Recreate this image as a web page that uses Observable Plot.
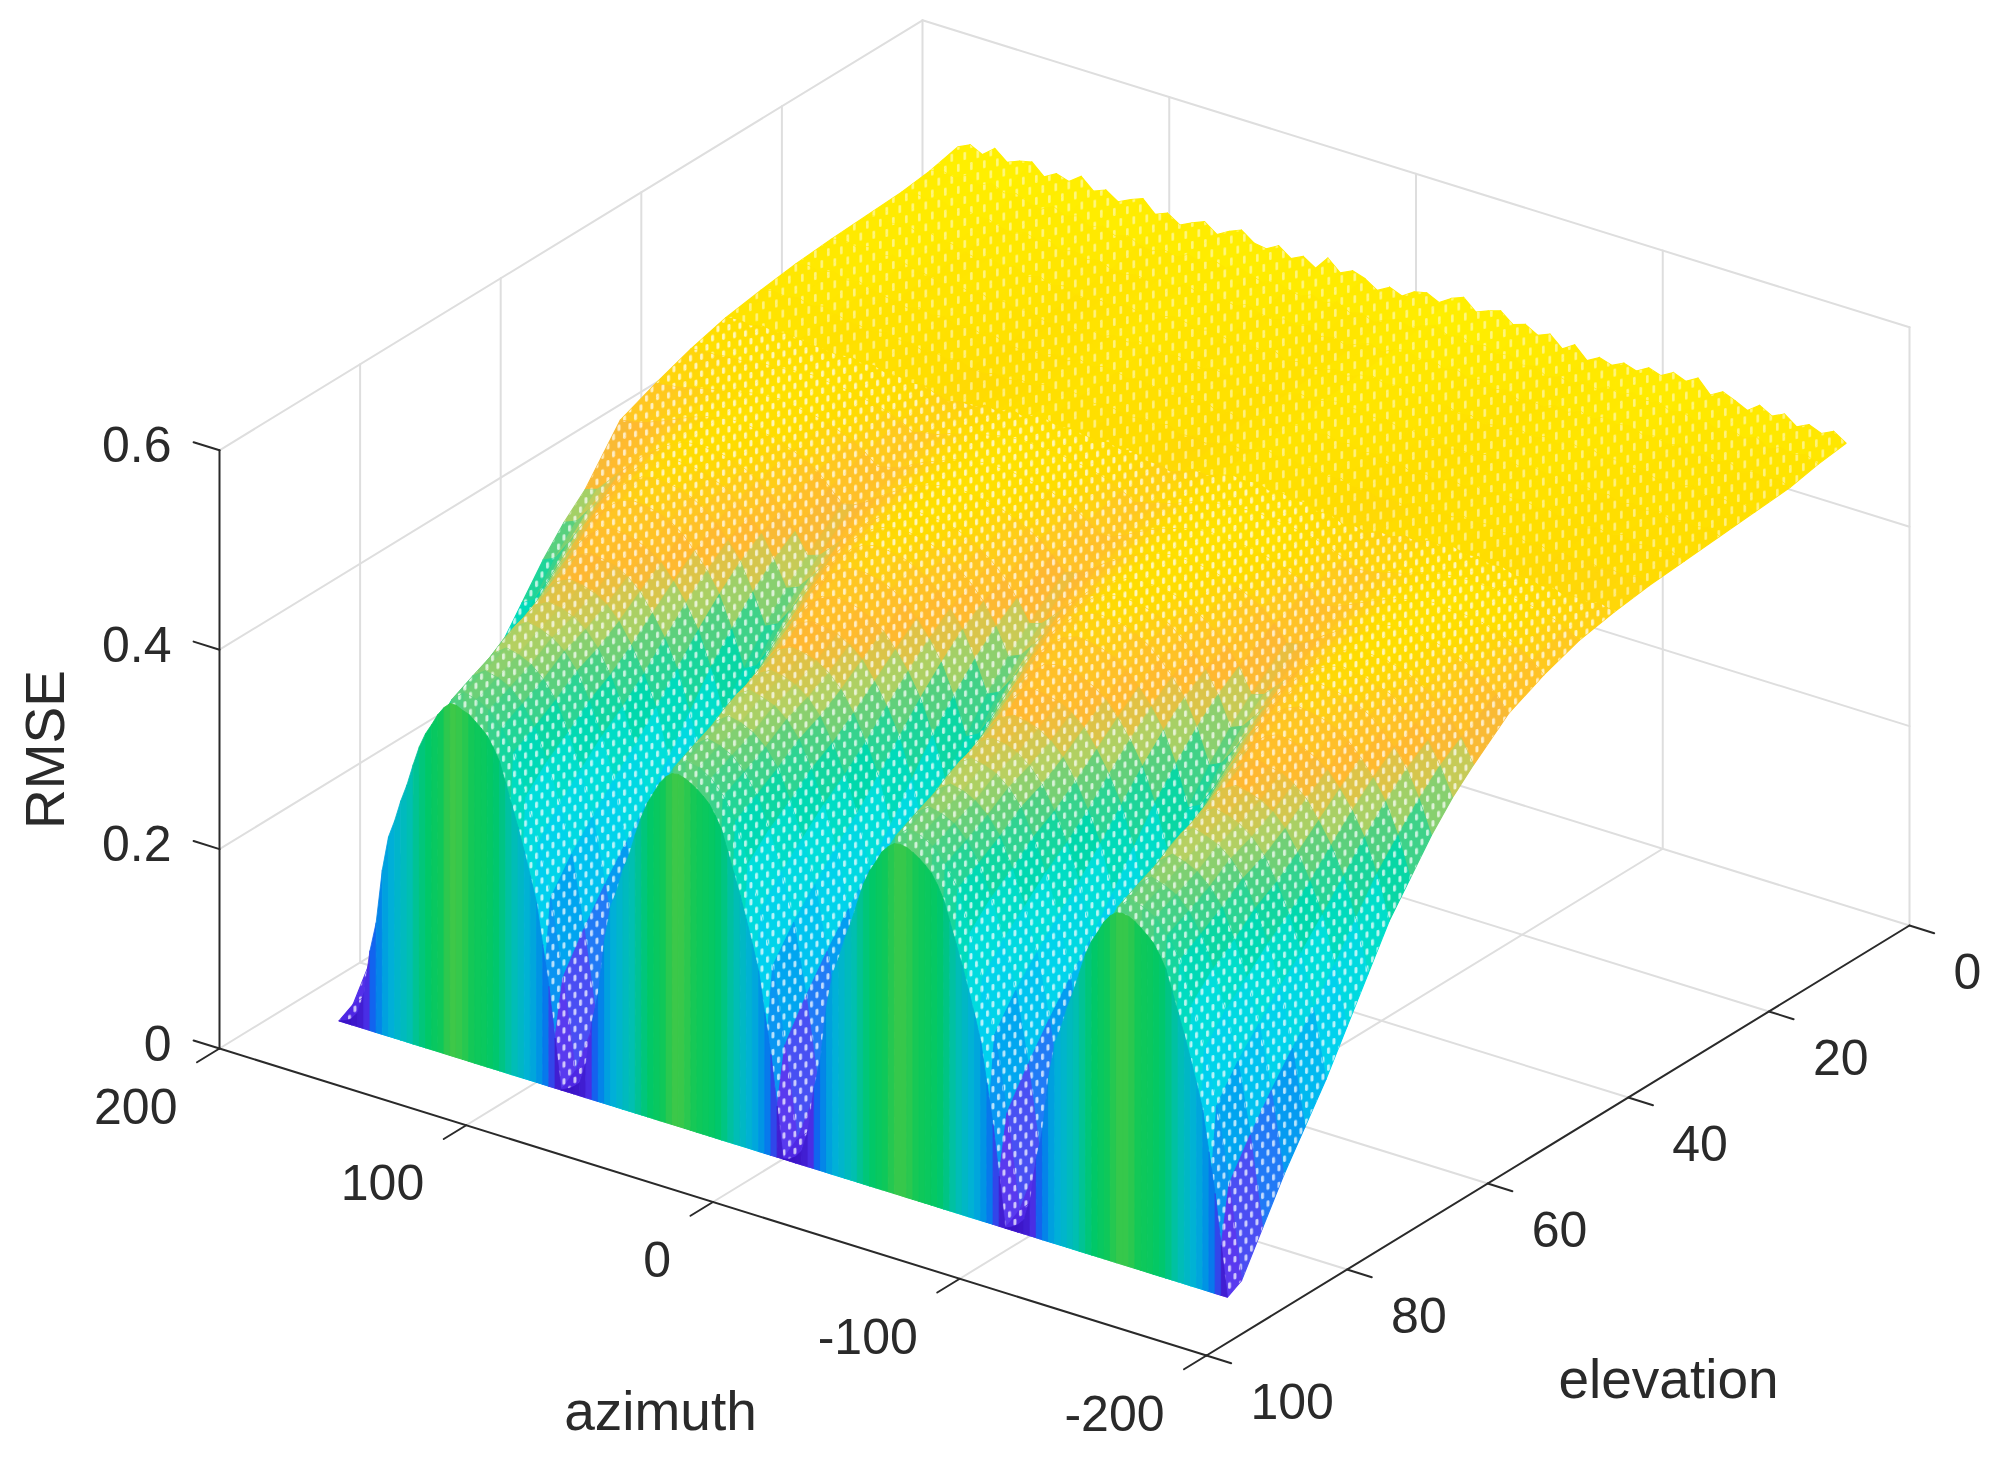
<!DOCTYPE html>
<html><head><meta charset="utf-8">
<script src="https://cdn.jsdelivr.net/npm/d3@7"></script>
<script src="https://cdn.jsdelivr.net/npm/@observablehq/plot@0.6"></script>
<style>html,body{margin:0;padding:0;background:#fff;overflow:hidden}svg{display:block;filter:blur(.6px)}</style>
</head><body><div id="chart"></div>
<script>
// RMSE, in thousandths; one list per elevation, azimuth 180 down to -180 by 5
const rmseEl2=[497,503,497,507,497,502,505,494,501,497,506,495,500,492,498,503,491,496,488,494,499,490,497,502,493,491,498,489,495,487,501,490,496,492,484,491,486,494,497,491,499,504,493,498,502,492,496,489,494,483,491,479,486,482,488,484,491,487,494,489,496,483,490,485,479,488,481,487,478,484,479,485,477];
const rmseEl6=[490,494,491,497,491,497,491,494,489,486,493,487,491,484,489,483,487,481,479,484,481,487,483,489,485,490,486,482,488,483,480,485,481,486,479,482,477,483,487,483,489,493,486,490,485,488,483,486,480,483,476,480,477,483,479,485,481,487,483,486,480,483,478,481,475,480,476,481,473,478,475,479,473];
const rmseEl10=[486,489,487,491,486,490,485,486,482,479,484,480,483,477,481,476,479,474,473,476,474,480,476,482,478,483,479,476,481,476,474,478,475,479,472,475,471,476,480,476,482,485,480,483,478,481,476,479,473,476,470,473,471,476,473,478,474,480,476,479,474,476,472,475,469,473,470,474,467,471,469,472,467];
const rmseEl15=[484,487,484,488,484,487,483,482,478,475,480,476,479,473,477,472,475,470,469,472,470,476,472,478,475,479,476,473,477,473,471,474,472,476,469,472,468,472,476,473,478,481,477,479,475,477,473,475,470,472,467,470,468,473,470,474,471,476,473,475,471,473,469,471,466,470,467,471,465,468,466,469,464];
const rmseEl20=[482,485,482,486,481,485,480,478,475,472,476,473,475,470,473,469,472,467,466,469,467,472,469,474,471,475,473,470,473,470,468,471,469,472,466,468,465,469,473,470,474,477,474,476,472,474,470,472,467,469,464,467,465,470,467,471,468,472,470,472,468,470,466,468,463,467,464,468,462,465,463,466,461];
const rmseEl25=[479,481,478,483,478,481,477,474,472,469,473,470,472,467,470,466,469,464,463,466,464,469,466,471,468,472,470,467,470,467,465,468,466,469,463,465,462,466,470,467,471,474,471,473,469,471,467,469,464,466,461,464,462,467,464,468,465,469,467,469,465,467,463,465,460,464,461,465,459,462,460,463,458];
const rmseEl30=[474,477,475,478,474,477,473,470,469,467,470,467,468,464,466,463,466,461,460,463,461,465,463,468,465,469,468,464,467,464,462,465,463,466,460,462,459,463,466,464,468,471,468,470,466,468,464,466,461,463,458,461,459,464,461,465,462,466,464,466,462,464,460,462,457,461,458,461,456,459,457,460,455];
const rmseEl35=[468,470,468,471,469,471,469,467,467,465,468,465,466,462,463,460,462,457,453,457,456,461,459,465,462,467,466,462,465,462,460,462,459,461,455,456,452,456,461,460,464,468,466,468,464,466,462,463,458,459,453,455,452,457,456,461,459,464,462,465,461,463,459,460,455,457,453,455,451,453,452,454,450];
const rmseEl40=[458,460,460,462,462,465,466,466,468,469,470,468,467,465,462,460,456,451,444,447,449,454,457,462,464,467,469,470,469,468,467,465,463,460,456,450,443,446,450,453,458,463,465,468,469,470,471,468,468,466,464,461,457,451,445,447,449,453,456,461,464,467,468,469,468,469,466,465,463,460,456,451,443];
const rmseEl45=[445,447,449,452,455,458,461,463,466,467,468,466,464,462,459,454,449,441,431,434,438,445,451,456,461,464,467,468,468,467,465,463,460,455,450,442,432,434,439,446,452,457,461,465,467,469,468,467,466,464,460,456,451,443,431,433,438,444,450,455,460,463,466,468,467,466,465,463,459,454,449,441,430];
const rmseEl50=[430,432,435,440,445,451,456,460,463,465,465,463,461,458,453,447,440,427,415,418,425,434,442,450,456,461,464,466,466,464,462,459,454,448,441,429,416,419,426,435,443,451,457,462,465,467,466,465,463,460,455,449,442,430,414,417,424,433,441,449,455,460,463,465,465,464,461,458,453,447,440,428,413];
const rmseEl55=[382,386,399,412,425,437,446,454,460,462,461,460,457,452,444,435,423,405,385,389,401,414,426,438,447,455,461,463,462,461,458,453,445,436,424,407,386,390,402,415,427,439,448,456,462,464,463,462,459,454,446,437,425,408,384,388,400,413,425,437,446,454,460,463,461,460,457,452,444,435,423,406,383];
const rmseEl58=[362,367,382,398,414,429,440,450,456,459,458,456,452,447,437,426,412,390,365,370,384,400,415,430,441,451,457,460,459,457,453,448,438,427,413,392,366,371,385,401,416,431,442,452,458,461,460,458,454,449,439,428,414,393,364,369,383,399,414,429,440,450,456,460,458,456,452,447,437,426,412,391,363];
const rmseEl61=[337,343,361,381,400,417,431,443,451,454,453,451,446,439,428,414,397,370,340,346,363,383,401,418,432,444,452,455,454,452,447,440,429,415,398,372,341,347,364,384,402,419,433,445,453,456,455,453,448,441,430,416,399,373,339,345,362,382,400,417,431,443,451,455,453,451,446,439,428,414,397,371,338];
const rmseEl64=[307,314,335,358,381,401,417,431,440,444,443,440,435,426,413,397,377,346,310,317,337,360,382,402,418,432,441,445,444,441,436,427,414,398,378,348,311,318,338,361,383,403,419,433,442,446,445,442,437,428,415,399,379,349,309,316,336,359,381,401,417,431,440,445,443,440,435,426,413,397,377,347,308];
const rmseEl67=[277,285,308,334,359,381,399,414,425,429,428,425,419,410,395,377,354,320,280,288,310,336,360,382,400,415,426,430,429,426,420,411,396,378,355,322,281,289,311,337,361,383,401,416,427,431,430,427,421,412,397,379,356,323,279,287,309,335,359,381,399,414,425,430,428,425,419,410,395,377,354,321,278];
const rmseEl70=[237,246,274,304,333,360,381,399,412,417,415,412,405,394,376,355,328,288,240,249,276,306,334,361,382,400,413,418,416,413,406,395,377,356,329,290,241,250,277,307,335,362,383,401,414,419,417,414,407,396,378,357,330,291,239,248,275,305,333,360,381,399,412,418,415,412,405,394,376,355,328,289,238];
const rmseEl73=[197,207,239,274,308,338,363,384,398,404,402,398,390,377,357,332,302,255,200,210,241,276,309,339,364,385,399,405,403,399,391,378,358,333,303,257,201,211,242,277,310,340,365,386,400,406,404,400,392,379,359,334,304,258,199,209,240,275,308,338,363,384,398,405,402,398,390,377,357,332,302,256,198];
const rmseEl76=[158,170,205,245,284,319,347,371,387,394,392,387,378,363,340,312,277,224,160,172,207,247,285,320,348,372,388,395,393,388,379,364,341,313,278,226,161,173,208,248,286,321,349,373,389,396,394,389,380,365,342,314,279,227,159,171,206,246,284,319,347,371,387,395,392,387,378,363,340,312,277,225,158];
const rmseEl79=[123,136,176,220,263,303,334,361,379,387,384,379,369,353,327,295,256,197,125,138,178,222,264,304,335,362,380,388,385,380,370,354,328,296,257,199,126,139,179,223,265,305,336,363,381,389,386,381,371,355,329,297,258,200,124,137,177,221,263,303,334,361,379,388,384,379,369,353,327,295,256,198,123];
const rmseEl82=[88,102,145,193,240,283,317,346,365,374,371,365,354,337,308,274,232,168,90,104,147,195,241,284,318,347,366,375,372,366,355,338,309,275,233,170,91,105,148,196,242,285,319,348,367,376,373,367,356,339,310,276,234,171,89,103,146,194,240,283,317,346,365,375,371,365,354,337,308,274,232,169,88];
const rmseEl85=[48,64,111,165,216,263,301,333,355,364,361,355,342,323,292,254,207,136,50,66,113,167,217,264,302,334,356,365,362,356,343,324,293,255,208,138,51,67,114,168,218,265,303,335,357,366,363,357,344,325,294,256,209,139,49,65,112,166,216,263,301,333,355,365,361,355,342,323,292,254,207,137,48];
const rmseEl88=[8,20,60,120,180,240,284,320,344,355,352,345,331,310,270,228,176,100,10,22,62,122,181,241,285,321,345,356,353,346,332,311,271,229,177,102,11,23,63,123,182,242,286,322,346,357,354,347,333,312,272,230,178,103,9,21,61,121,180,240,284,320,344,356,352,345,331,310,270,228,176,101,8];
const rmseEl90=[0,0,0,0,0,0,0,0,0,0,0,0,0,0,0,0,0,0,0,0,0,0,0,0,0,0,0,0,0,0,0,0,0,0,0,0,0,0,0,0,0,0,0,0,0,0,0,0,0,0,0,0,0,0,0,0,0,0,0,0,0,0,0,0,0,0,0,0,0,0,0,0,0,0,0];
// Height of the dense front wall, azimuth 180 down to -180 by 2.5
const frontWall=[0,2,6,14,35,80,110,165,200,218,240,258,280,300,315,326,338,347,353,353,350,348,343,338,332,322,310,290,270,250,228,205,180,140,100,50,
0,3,7,13,34,78,108,163,199,217,240,257,279,299,315,327,339,347,352,353,351,348,344,339,333,323,311,291,271,251,229,206,181,141,101,51,
0,2,6,14,36,81,111,166,201,219,241,259,280,301,316,327,339,346,351,352,351,348,344,339,333,323,310,290,270,250,228,205,180,140,100,50,
0,3,7,14,35,79,109,164,200,218,240,258,279,300,315,326,338,346,351,352,351,348,343,338,332,322,310,290,270,250,228,205,180,140,100,50,0];
const elevations=[2,6,10,15,20,25,30,35,40,45,50,55,58,61,64,67,70,73,76,79,82,85,88,90];
const rmseRows=[rmseEl2,rmseEl6,rmseEl10,rmseEl15,rmseEl20,rmseEl25,rmseEl30,rmseEl35,rmseEl40,rmseEl45,rmseEl50,rmseEl55,rmseEl58,rmseEl61,rmseEl64,rmseEl67,rmseEl70,rmseEl73,rmseEl76,rmseEl79,rmseEl82,rmseEl85,rmseEl88,rmseEl90];
const azimuths=d3.range(180,-181,-5);
const wallAzimuths=d3.range(180,-181,-2.5);
const azTicks=[200,100,0,-100,-200];
const elTicks=[0,20,40,60,80,100];
const zTicks=[0,0.2,0.4,0.6];
// Two ramps on one colour scale: open mesh at 0-0.5, solid front wall at 1-1.5
const wallShift=1;
const colorStops=[0,0.06,0.1,0.15,0.2,0.27,0.31,0.35,0.38,0.41,0.44,0.46,0.48,0.5, 1,1.06,1.1,1.16,1.21,1.27,1.32,1.345,1.355];
const colorRange=["#4a20e0","#5a3cf0","#2a70f8","#00a0f0","#00d0f0","#00e0d8","#00d8a8","#50d080","#b8d060","#ffb830","#ffc820","#ffdc00","#ffe800","#fff000",
"#3a12c4","#4a2fe6","#0a6cf0","#0094e4","#00b0d8","#00bfb0","#00c868","#10c858","#4ac844"];

// Fixed 3D view of the axes box
const px=(az,el)=>219+2.4675*(200-az)+7.03*(100-el);
const py=(az,el,z)=>1048+0.7675*(200-az)-4.3*(100-el)-997*z;
const P=(az,el,z)=>({x:px(az,el),y:py(az,el,z)});

// Grid and axes
const seg=(a,b,id)=>[{...a,id},{...b,id}];
let gridPts=[],id=0;
for(const t of [100,0,-100]) gridPts.push(...seg(P(t,100,0),P(t,0,0),id++));
for(const t of [80,60,40,20]) gridPts.push(...seg(P(200,t,0),P(-200,t,0),id++));
for(const t of [200,100,0,-100,-200]) gridPts.push(...seg(P(t,0,0),P(t,0,0.6),id++));
for(const t of [80,60,40,20]) gridPts.push(...seg(P(200,t,0),P(200,t,0.6),id++));
for(const t of [0.2,0.4,0.6]){gridPts.push(...seg(P(200,100,t),P(200,0,t),id++));gridPts.push(...seg(P(200,0,t),P(-200,0,t),id++));}
gridPts.push(...seg(P(200,0,0),P(200,100,0),id++),...seg(P(200,0,0),P(-200,0,0),id++));
let axisPts=[];
axisPts.push(...seg(P(200,100,0),P(-200,100,0),id++),...seg(P(-200,100,0),P(-200,0,0),id++),...seg(P(200,100,0),P(200,100,0.6),id++));
for(const t of azTicks) axisPts.push(...seg(P(t,100,0),P(t,103.2,0),id++));
for(const t of elTicks) axisPts.push(...seg(P(-200,t,0),P(-210,t,0),id++));
for(const t of zTicks) axisPts.push(...seg(P(200,100,t),P(210.5,100,t),id++));

// Surface cells, back to front
const bandMarks=[];
for(let i=0;i<elevations.length-1;i++){
  const pts=[],r0=rmseRows[i],r1=rmseRows[i+1],e0=elevations[i],e1=elevations[i+1];
  const lastBand=i===elevations.length-2;
  for(let j=0;j<azimuths.length-1;j++){
    const a0=azimuths[j],a1=azimuths[j+1];
    const v=lastBand?(r0[j]+r0[j+1])/2000:(r0[j]+r0[j+1]+r1[j]+r1[j+1])/4000;
    const c=`${i}-${j}`;
    for(const [a,e,z] of [[a0,e0,r0[j]],[a1,e0,r0[j+1]],[a1,e1,r1[j+1]],[a0,e1,r1[j]],[a0,e0,r0[j]]])
      pts.push({...P(a,e,z/1000),c,v});
  }
  bandMarks.push(Plot.line(pts,{x:"x",y:"y",z:"c",fill:"v",stroke:"v",strokeWidth:1.2}));
  bandMarks.push(Plot.line(pts,{x:"x",y:"y",z:"c",fill:e0<35?"url(#flecksBack)":"url(#flecksFront)",stroke:"none"}));
}
// Front wall, one solid strip per azimuth step
const wallPts=[];
for(let j=0;j<wallAzimuths.length-1;j++){
  const a0=wallAzimuths[j],a1=wallAzimuths[j+1],z0=frontWall[j]/1000,z1=frontWall[j+1]/1000;
  const v=wallShift+(z0+z1)/2,c=j;
  for(const [a,z] of [[a0,0],[a1,0],[a1,z1],[a0,z0],[a0,0]]) wallPts.push({...P(a,90,z),c,v});
}

const zLabels=zTicks.map(t=>({...P(200,100,t),t:String(t)}));
const azLabels=azTicks.map(t=>({...P(t,100,0),t:String(t)}));
const elLabels=elTicks.map(t=>({...P(-200,t,0),t:String(t)}));
const font="Liberation Sans";
const ink="#2a2a2a";
const chart=Plot.plot({
  width:1991,height:1457,margin:0,
  style:{background:"#fff"},
  x:{domain:[0,1991],range:[0,1991],axis:null},
  y:{domain:[0,1457],range:[0,1457],axis:null},
  color:{type:"linear",domain:colorStops,range:colorRange,interpolate:"rgb",clamp:true},
  marks:[
    Plot.line(gridPts,{x:"x",y:"y",z:"id",stroke:"#dedede",strokeWidth:2}),
    Plot.line(axisPts,{x:"x",y:"y",z:"id",stroke:ink,strokeWidth:2}),
    ...bandMarks,
    Plot.line(wallPts,{x:"x",y:"y",z:"c",fill:"v",stroke:"v",strokeWidth:0.8}),
    Plot.text(zLabels,{x:"x",y:"y",text:"t",dx:-48,dy:-4,textAnchor:"end",fontSize:50,fontFamily:font,fill:ink}),
    Plot.text(azLabels,{x:"x",y:"y",text:"t",dx:-42,dy:59,textAnchor:"end",fontSize:50,fontFamily:font,fill:ink}),
    Plot.text(elLabels,{x:"x",y:"y",text:"t",dx:44,dy:47,textAnchor:"start",fontSize:50,fontFamily:font,fill:ink}),
    Plot.text(["azimuth"],{x:()=>660,y:()=>1412,text:d=>d,fontSize:55,fontFamily:font,fill:ink}),
    Plot.text(["elevation"],{x:()=>1668,y:()=>1380,text:d=>d,fontSize:55,fontFamily:font,fill:ink}),
    Plot.text(["RMSE"],{x:()=>46,y:()=>749,text:d=>d,rotate:-90,fontSize:55,fontFamily:font,fill:ink})
  ]
});
chart.insertAdjacentHTML("afterbegin",`<defs>
<pattern id="flecksFront" width="11" height="17" patternUnits="userSpaceOnUse" patternTransform="skewY(-8)">
<rect x="1" y="1" width="3" height="6.5" rx="1.4" fill="#fff" fill-opacity=".72"/><rect x="6.5" y="9.5" width="3" height="6.5" rx="1.4" fill="#fff" fill-opacity=".72"/></pattern>
<pattern id="flecksBack" width="13" height="22" patternUnits="userSpaceOnUse" patternTransform="skewY(-8)">
<rect x="1" y="1" width="2.6" height="8" rx="1.2" fill="#fff" fill-opacity=".5"/><rect x="7.5" y="12" width="2.6" height="8" rx="1.2" fill="#fff" fill-opacity=".5"/></pattern>
</defs>`);
document.getElementById("chart").append(chart);
</script></body></html>
